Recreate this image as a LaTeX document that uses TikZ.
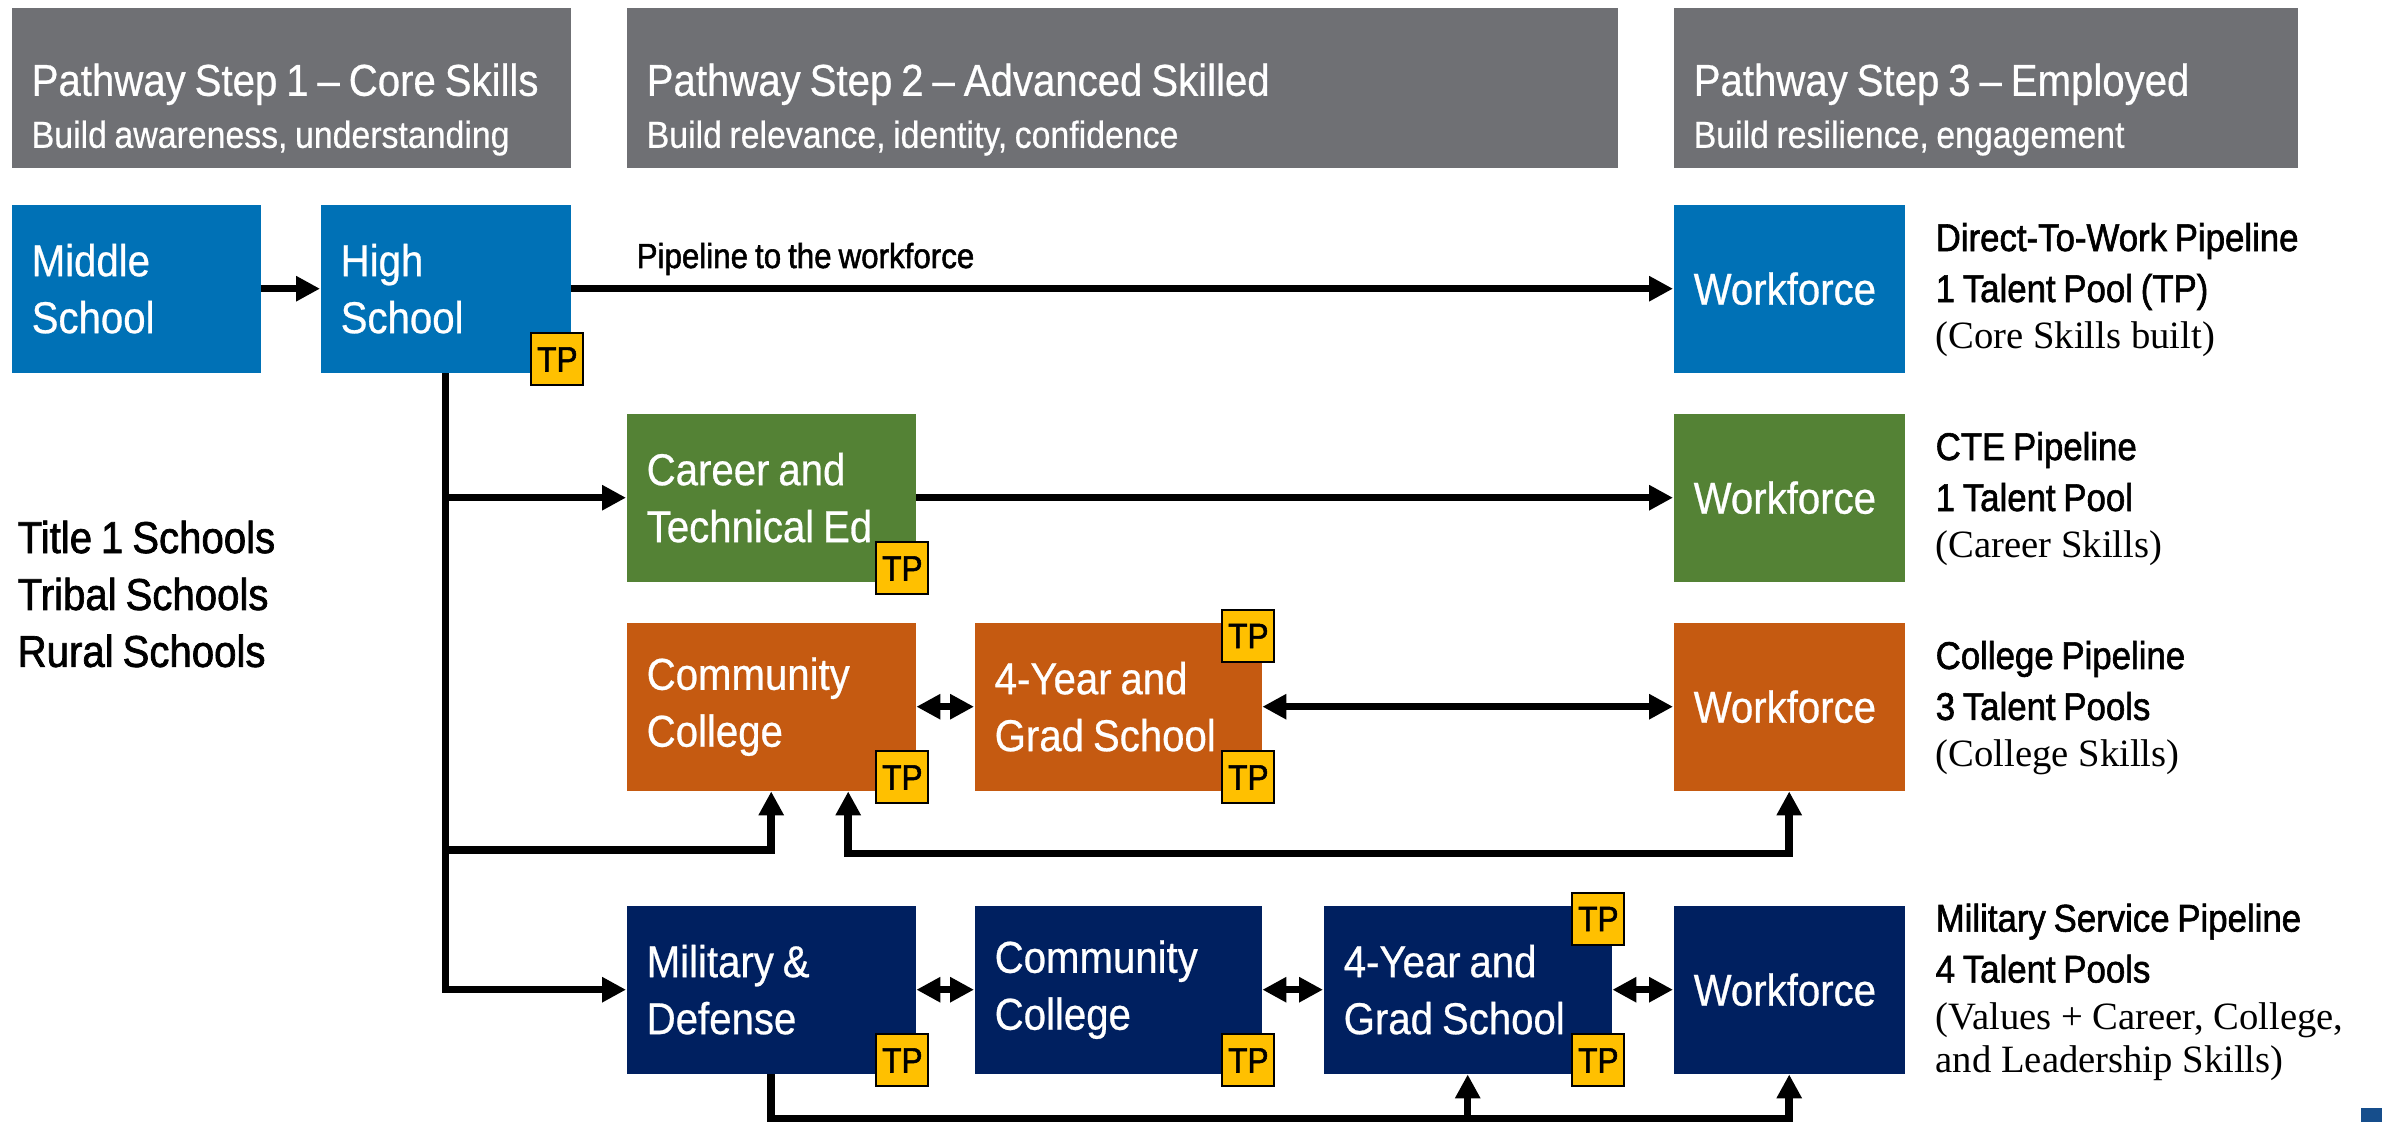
\documentclass[tikz,border=0pt]{standalone}
\usepackage{fontspec}
\setmainfont{Liberation Sans}[FakeStretch=0.88,WordSpace=0.8]
\newfontfamily\boxfont{Liberation Sans}[FakeStretch=0.9,WordSpace=0.8,FakeBold=0.6]
\newfontfamily\darkfont{Liberation Sans}[FakeStretch=0.9,WordSpace=0.8,FakeBold=1.5]
\newfontfamily\notefont{Liberation Serif}
\usetikzlibrary{arrows.meta}

\begin{document}
\begin{tikzpicture}[x=0.1mm,y=-0.1mm,
  stage/.style={rectangle,anchor=north west,inner xsep=2mm,inner ysep=0pt,
    minimum height=16.8mm,align=flush left,text=white,
    font=\boxfont\fontsize{12.7}{16.2}\selectfont},
  header/.style={rectangle,anchor=north west,inner xsep=2mm,inner ysep=0pt,
    minimum height=16mm,align=flush left,text=white,fill=hdgray,
    font=\boxfont\fontsize{12.7}{14.8}\selectfont},
  tpbox/.style={draw=black,line width=0.2mm,fill=tpgold,inner sep=0pt,
    minimum size=5.2mm,font=\darkfont\fontsize{10}{10}\selectfont},
  note/.style={anchor=west,align=left,inner sep=0pt,
    font=\darkfont\fontsize{11}{14.5}\selectfont},
  flow/.style={line width=0.75mm,-{Triangle[length=2.4mm,width=2.4mm]}},
  both/.style={line width=0.75mm,
    {Triangle[length=2.4mm,width=2.4mm]}-{Triangle[length=2.4mm,width=2.4mm]}}]
 \definecolor{pw1}{RGB}{0,113,182}
 \definecolor{pw2}{RGB}{84,130,53}
 \definecolor{pw3}{RGB}{197,90,17}
 \definecolor{pw4}{RGB}{0,32,96}
 \definecolor{hdgray}{RGB}{111,112,116}
 \definecolor{tpgold}{RGB}{255,192,0}
 \definecolor{cornerblue}{RGB}{22,78,140}
 \path[fill=white,use as bounding box] (0,0) rectangle (2382,1122);
 % step headers
 \foreach \nm/\xp/\bw/\ta/\tb in {
   hd1/11/559/{Pathway Step 1 – Core Skills}/{Build awareness, understanding},
   hd2/626/991/{Pathway Step 2 – Advanced Skilled}/{Build relevance, identity, confidence},
   hd3/1673/624/{Pathway Step 3 – Employed}/{Build resilience, engagement}
 } {
   \pgfmathsetmacro\tw{\bw/10-4}
   \node[header,minimum width=\bw*0.1mm,text width=\tw mm] (\nm) at (\xp,7)
     {\rule{0pt}{7.6mm}\mbox{\ta}\\{\fontsize{10.7}{14.8}\selectfont\mbox{\tb}}};
 }
 % pathway boxes
 \foreach \nm/\col/\xp/\yp/\bw/\lbl in {
   ms/pw1/11/204/249/{Middle\\School},
   hs/pw1/320/204/250/{High\\School},
   wf1/pw1/1673/204/231/{Workforce},
   cte/pw2/626/413/289/{Career and\\Technical Ed},
   wf2/pw2/1673/413/231/{Workforce},
   cco/pw3/626/622/289/{Community\\College},
   fyo/pw3/974/622/287/{4-Year and\\Grad School},
   wfo/pw3/1673/622/231/{Workforce},
   mil/pw4/626/905/289/{Military \&\\Defense},
   ccn/pw4/974/905/287/{Community\\College},
   fyn/pw4/1323/905/288/{4-Year and\\Grad School},
   wfn/pw4/1673/905/231/{Workforce}
 } {
   \pgfmathsetmacro\tw{\bw/10-4}
   \node[stage,fill=\col,minimum width=\bw*0.1mm,text width=\tw mm]
     (\nm) at (\xp,\yp) {\lbl};
 }
 \node[anchor=west,align=left,inner sep=0pt,
   font=\darkfont\fontsize{12.7}{16.2}\selectfont] (schools) at (17,594)
   {Title 1 Schools\\Tribal Schools\\Rural Schools};
 % pipeline notes
 \node[note] (cap1) at (1935,290)
   {Direct-To-Work Pipeline\\1 Talent Pool (TP)\\[-1.2pt]{\notefont (Core Skills built)}};
 \node[note] (cap2) at (1935,499)
   {CTE Pipeline\\1 Talent Pool\\[-1.2pt]{\notefont (Career Skills)}};
 \node[note] (cap3) at (1935,708)
   {College Pipeline\\3 Talent Pools\\[-1.2pt]{\notefont (College Skills)}};
 \node[note] (cap4) at (1935,992)
   {Military Service Pipeline\\4 Talent Pools\\[-1.2pt]{\notefont (Values + Career, College,}\\[-2.3pt]{\notefont and Leadership Skills)}};
 % connectors
 \coordinate (rail3) at (0,850);
 \coordinate (rail5) at (0,1119);
 \draw[flow] (ms.east) -- (hs.west);
 \draw[flow] (hs.east) -- (wf1.west);
 \node[anchor=base west,inner sep=0pt,font=\darkfont\fontsize{9.9}{12}\selectfont]
   (pipelbl) at (636,268) {Pipeline to the workforce};
 \draw[flow] (hs.south) |- (mil.west);
 \draw[flow] (hs.south |- cte.west) -- (cte.west);
 \draw[flow] (hs.south |- rail3) -| (cco.south);
 \draw[flow] (cte.east) -- (wf2.west);
 \draw[both] (cco.east) -- (fyo.west);
 \draw[both] (fyo.east) -- (wfo.west);
 \draw[both] ([xshift=7.7mm]cco.south) -- ++(0,62) -| (wfo.south);
 \draw[both] (mil.east) -- (ccn.west);
 \draw[both] (ccn.east) -- (fyn.west);
 \draw[both] (fyn.east) -- (wfn.west);
 \draw[flow] (mil.south) |- (wfn.south |- rail5) -- (wfn.south);
 \draw[flow] (fyn.south |- rail5) -- (fyn.south);
 % talent pool tags
 \foreach \bx/\cn/\sy [count=\i] in {
   hs/south east/1, cte/south east/1, cco/south east/1,
   fyo/north east/-1, fyo/south east/1, mil/south east/1,
   ccn/south east/1, fyn/north east/-1, fyn/south east/1
 } {
   \node[tpbox] (tp\i) at ([xshift=-1.4mm,yshift=\sy*1.4mm]\bx.\cn) {TP};
 }
 \fill[cornerblue] (2361,1108) rectangle (2382,1122);
\end{tikzpicture}
\end{document}
